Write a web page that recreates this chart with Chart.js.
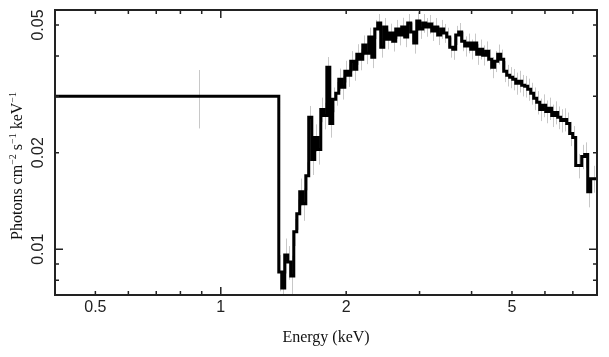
<!DOCTYPE html>
<html>
<head>
<meta charset="utf-8">
<script src="https://cdn.jsdelivr.net/npm/chart.js@4.4.1/dist/chart.umd.min.js"></script>
<style>
  html, body { margin: 0; padding: 0; background: #fff; }
  #wrap { width: 609px; height: 357px; }
</style>
</head>
<body>
<div id="wrap"><canvas id="myChart" width="609" height="357"></canvas></div>
<script>
// spectrum bins: edges in keV, flux in photons cm^-2 s^-1 keV^-1, errors (1 sigma)
var binEdges = [0.4, 1.378, 1.401, 1.424, 1.448, 1.472, 1.497, 1.522, 1.547, 1.573, 1.600,
  1.626, 1.654, 1.681, 1.709, 1.738, 1.767, 1.797, 1.827, 1.857, 1.888, 1.920, 1.952,
  1.985, 2.018, 2.051, 2.086, 2.121, 2.156, 2.192, 2.228, 2.266, 2.304, 2.342, 2.381,
  2.421, 2.462, 2.503, 2.545, 2.587, 2.630, 2.674, 2.719, 2.764, 2.810, 2.858, 2.905,
  2.954, 3.003, 3.054, 3.105, 3.157, 3.209, 3.263, 3.317, 3.373, 3.429, 3.486, 3.545,
  3.604, 3.664, 3.725, 3.787, 3.850, 3.915, 3.981, 4.047, 4.115, 4.183, 4.253, 4.325,
  4.397, 4.470, 4.545, 4.621, 4.699, 4.777, 4.857, 4.938, 5.021, 5.105, 5.190, 5.277,
  5.365, 5.455, 5.546, 5.638, 5.733, 5.829, 5.926, 6.026, 6.126, 6.229, 6.333, 6.439,
  6.546, 6.656, 6.767, 6.880, 6.995, 7.112, 7.352, 7.475, 7.600, 7.727, 7.988];

var flux = [0.0300,
  0.00849, 0.00757, 0.00960, 0.00913, 0.00825, 0.01133, 0.01289, 0.01511, 0.01386, 0.01696,
  0.02577, 0.01904, 0.02231, 0.02046, 0.02729, 0.02614, 0.03694, 0.02468, 0.02933, 0.03063,
  0.03388, 0.03198, 0.03589, 0.03487, 0.03857, 0.03641, 0.04057, 0.03913, 0.04329, 0.04086,
  0.04585, 0.03970, 0.04857, 0.05071, 0.04266, 0.04927, 0.04519, 0.04719, 0.04454, 0.04857,
  0.04651, 0.04927, 0.04585, 0.05071, 0.04753, 0.04392, 0.05145, 0.04857, 0.05071, 0.04927,
  0.05035, 0.04788, 0.04927, 0.04651, 0.04857, 0.04719, 0.04585, 0.04266, 0.04205, 0.04651,
  0.04753, 0.04454, 0.04298, 0.04392, 0.04205, 0.04392, 0.04057, 0.04205, 0.04028, 0.04145,
  0.03913, 0.03694, 0.03857, 0.04057, 0.03913, 0.03589, 0.03487, 0.03437, 0.03388, 0.03292,
  0.03340, 0.03245, 0.03221, 0.03152, 0.03063, 0.02954, 0.02871,
  0.02729, 0.02810, 0.02690, 0.02749, 0.02614, 0.02671, 0.02577, 0.02522, 0.02540, 0.02468,
  0.02296, 0.02231, 0.01823, 0.01946, 0.01974, 0.01511, 0.01660];

var fluxErr = [0.0062,
  0.0011, 0.0010, 0.0012, 0.0011, 0.0013, 0.0011, 0.0014, 0.0015, 0.0016, 0.0017,
  0.0022, 0.0020, 0.0022, 0.0021, 0.0024, 0.0025, 0.0028, 0.0024, 0.0026, 0.0026,
  0.0027, 0.0027, 0.0028, 0.0028, 0.0029, 0.0029, 0.0030, 0.0030, 0.0031, 0.0031,
  0.0032, 0.0030, 0.0033, 0.0034, 0.0031, 0.0033, 0.0032, 0.0033, 0.0032, 0.0033,
  0.0033, 0.0034, 0.0032, 0.0034, 0.0033, 0.0032, 0.0034, 0.0033, 0.0034, 0.0033,
  0.0034, 0.0033, 0.0033, 0.0032, 0.0033, 0.0032, 0.0032, 0.0031, 0.0031, 0.0032,
  0.0032, 0.0031, 0.0031, 0.0031, 0.0030, 0.0031, 0.0030,
  0.0030, 0.0029, 0.0030, 0.0029, 0.0028, 0.0029, 0.0029, 0.0028, 0.0027, 0.0027,
  0.0026, 0.0026, 0.0026, 0.0026, 0.0025, 0.0025, 0.0025, 0.0024, 0.0024, 0.0024,
  0.0022, 0.0023, 0.0022, 0.0022, 0.0021, 0.0022, 0.0021, 0.0021, 0.0021, 0.0020,
  0.0020, 0.0019, 0.0016, 0.0017, 0.0018, 0.0016, 0.0016];

// axis ticks and labels
var xMajorTicks = [1];
var xMinorTicks = [0.5, 0.6, 0.7, 0.8, 0.9, 2, 3, 4, 5, 6, 7];
var xTickLabels = [0.5, 1, 2, 5];
var yMajorTicks = [0.01];
var yMinorTicks = [0.008, 0.009, 0.02, 0.03, 0.04, 0.05];
var yTickLabels = [0.01, 0.02, 0.05];

var xRange = [0.4, 8.0];
var yRange = [0.0072, 0.0557];

// step line points: each bin starts at its left edge, last point closes the final bin
var stepPoints = binEdges.map(function (e, i) {
    var v = i < flux.length ? flux[i] : flux[flux.length - 1];
    return { x: e, y: v };
});

var whiteBg = {
    id: 'whiteBg',
    beforeDraw: function (chart) {
        var c = chart.ctx;
        c.save();
        c.fillStyle = '#fff';
        c.fillRect(0, 0, chart.width, chart.height);
        c.restore();
    }
};

// grey error bars behind the histogram
var errorBars = {
    id: 'errorBars',
    beforeDatasetsDraw: function (chart) {
        var c = chart.ctx, xs = chart.scales.x, ys = chart.scales.y, a = chart.chartArea;
        c.save();
        c.beginPath();
        c.rect(a.left, a.top, a.right - a.left, a.bottom - a.top);
        c.clip();
        c.strokeStyle = '#c8c8c8';
        c.lineWidth = 1;
        var n = Math.min(flux.length, fluxErr.length, binEdges.length - 1);
        for (var i = 0; i < n; i++) {
            var mid = (binEdges[i] + binEdges[i + 1]) / 2;
            var px = Math.round(xs.getPixelForValue(mid)) + 0.5;
            c.beginPath();
            c.moveTo(px, ys.getPixelForValue(flux[i] + fluxErr[i]));
            c.lineTo(px, ys.getPixelForValue(flux[i] - fluxErr[i]));
            c.stroke();
        }
        c.restore();
    }
};

// frame, inward ticks, tick labels and axis titles
var frameAxes = {
    id: 'frameAxes',
    afterDraw: function (chart) {
        var c = chart.ctx, xs = chart.scales.x, ys = chart.scales.y, a = chart.chartArea;
        c.save();
        c.strokeStyle = '#222';
        c.lineWidth = 2;
        c.strokeRect(a.left, a.top, a.right - a.left, a.bottom - a.top);

        function xTick(v, len) {
            var px = xs.getPixelForValue(v);
            c.beginPath();
            c.moveTo(px, a.bottom); c.lineTo(px, a.bottom - len);
            c.moveTo(px, a.top); c.lineTo(px, a.top + len);
            c.stroke();
        }
        function yTick(v, len) {
            var py = ys.getPixelForValue(v);
            c.beginPath();
            c.moveTo(a.left, py); c.lineTo(a.left + len, py);
            c.moveTo(a.right, py); c.lineTo(a.right - len, py);
            c.stroke();
        }
        c.lineWidth = 1.5;
        xMinorTicks.forEach(function (v) { xTick(v, 4); });
        xMajorTicks.forEach(function (v) { xTick(v, 8); });
        yMinorTicks.forEach(function (v) { yTick(v, 4); });
        yMajorTicks.forEach(function (v) { yTick(v, 8); });

        c.fillStyle = '#222';
        c.font = '16px "Liberation Sans", Arial, sans-serif';
        c.textAlign = 'center';
        c.textBaseline = 'middle';
        xTickLabels.forEach(function (v) {
            c.fillText(String(v), xs.getPixelForValue(v), a.bottom + 13);
        });
        yTickLabels.forEach(function (v) {
            c.save();
            c.translate(a.left - 16, ys.getPixelForValue(v));
            c.rotate(-Math.PI / 2);
            c.fillText(String(v), 0, 0);
            c.restore();
        });

        // x title
        c.fillStyle = '#111';
        c.font = '16px "Liberation Serif", "Times New Roman", serif';
        c.fillText('Energy (keV)', (a.left + a.right) / 2, 338);

        // y title with superscripts
        var parts = [['Photons cm', 0], ['\u22122', 1], [' s', 0], ['\u22121', 1], [' keV', 0], ['\u22121', 1]];
        var mainFont = '16px "Liberation Serif", "Times New Roman", serif';
        var supFont = '10px "Liberation Serif", "Times New Roman", serif';
        var total = 0;
        parts.forEach(function (p) {
            c.font = p[1] ? supFont : mainFont;
            total += c.measureText(p[0]).width;
        });
        c.save();
        c.translate(22, 166);
        c.rotate(-Math.PI / 2);
        c.textAlign = 'left';
        c.textBaseline = 'alphabetic';
        var cx = -total / 2;
        parts.forEach(function (p) {
            c.font = p[1] ? supFont : mainFont;
            c.fillText(p[0], cx, p[1] ? -6 : 0);
            cx += c.measureText(p[0]).width;
        });
        c.restore();
        c.restore();
    }
};

var ctx = document.getElementById('myChart').getContext('2d');
var myChart = new Chart(ctx, {
    type: 'line',
    data: {
        datasets: [{
            label: 'Spectrum',
            data: stepPoints,
            borderColor: '#000',
            borderWidth: 3,
            stepped: 'before',
            pointRadius: 0,
            fill: false
        }]
    },
    options: {
        responsive: false,
        animation: false,
        events: [],
        layout: { padding: { left: 55, right: 12, top: 10, bottom: 62 } },
        plugins: { legend: { display: false }, tooltip: { enabled: false } },
        scales: {
            x: { type: 'logarithmic', min: xRange[0], max: xRange[1], display: false },
            y: { type: 'logarithmic', min: yRange[0], max: yRange[1], display: false }
        }
    },
    plugins: [whiteBg, errorBars, frameAxes]
});
</script>
</body>
</html>
